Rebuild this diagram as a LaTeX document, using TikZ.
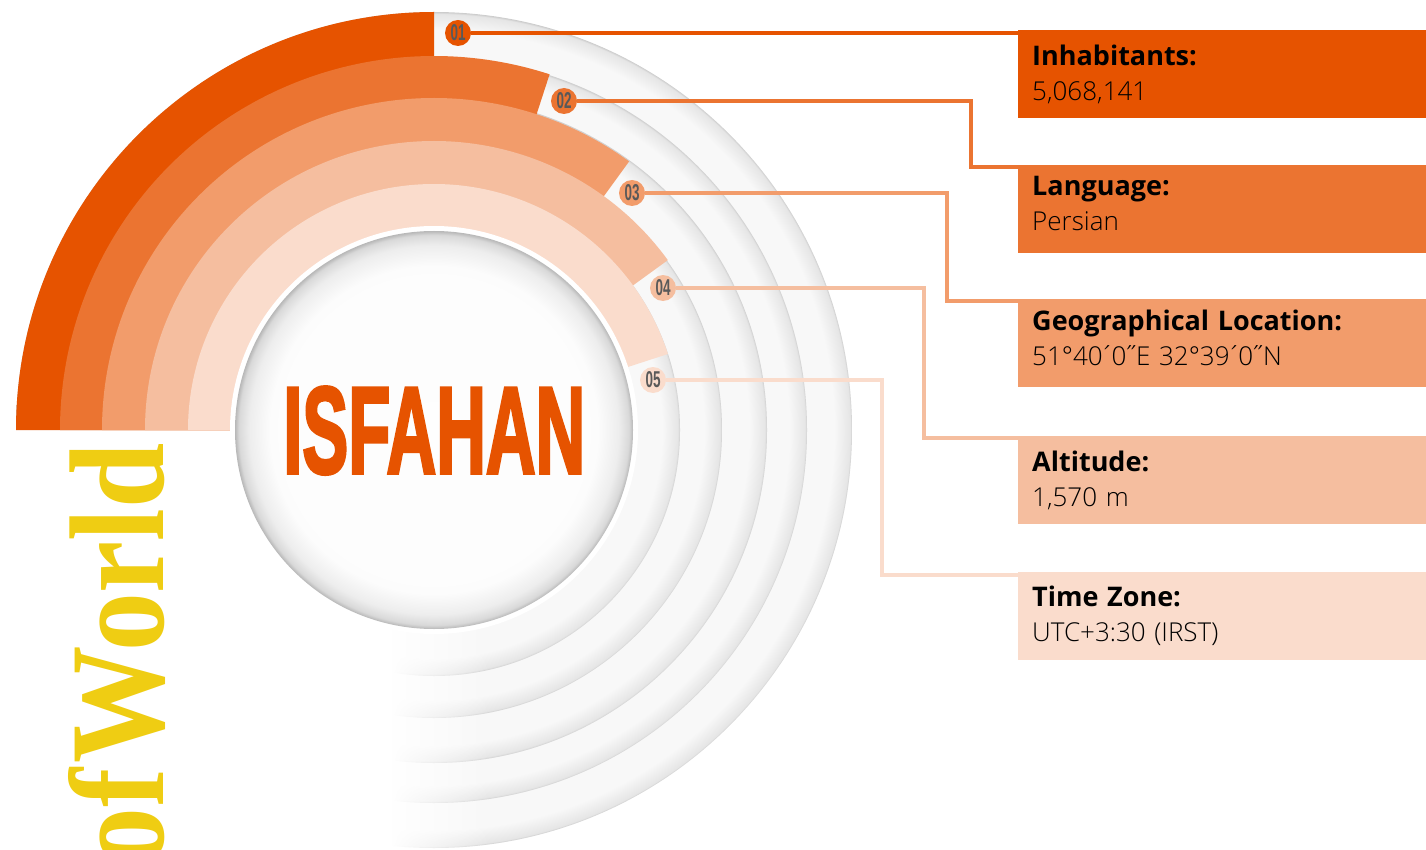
\documentclass[tikz,border=0pt]{standalone}
\usepackage{fontspec}
\usetikzlibrary{fadings}
\newfontfamily\boxfont[WordSpace=1.5]{Open Sans}
\newfontfamily\valfont[WordSpace=1.5]{Open Sans Light}
\newfontfamily\numfont{Liberation Sans}
\newfontfamily\cityfont[FakeBold=3]{Liberation Sans Bold}
\newfontfamily\titlefont[WordSpace=0.2]{Liberation Serif Bold}
\definecolor{cA}{HTML}{E65300}
\definecolor{cB}{HTML}{EB7431}
\definecolor{cC}{HTML}{F29C6B}
\definecolor{cD}{HTML}{F5BE9F}
\definecolor{cE}{HTML}{FADCCC}
\definecolor{numgray}{HTML}{595959}
\definecolor{titleyellow}{HTML}{EFCD13}
\newcommand{\ringshade}[3]{\pgfdeclareradialshading{#1}{\pgfpointorigin}{%
  rgb(0bp)=(0.973,0.973,0.973);
  rgb(#2bp)=(0.973,0.973,0.973);
  rgb(#3bp)=(0.90,0.90,0.90);
  rgb(25bp)=(0.80,0.80,0.80);
  rgb(50bp)=(0.80,0.80,0.80)}}
\ringshade{ringA}{23.92}{24.88}
\ringshade{ringB}{23.80}{24.87}
\ringshade{ringC}{23.65}{24.85}
\ringshade{ringD}{23.44}{24.83}
\ringshade{ringE}{23.17}{24.80}
\pgfdeclareradialshading{hub}{\pgfpointorigin}{%
  rgb(0bp)=(0.995,0.995,0.995);
  rgb(20.5bp)=(0.99,0.99,0.99);
  rgb(23.2bp)=(0.93,0.93,0.93);
  rgb(24.5bp)=(0.85,0.85,0.85);
  rgb(25bp)=(0.72,0.72,0.72);
  rgb(50bp)=(0.72,0.72,0.72)}
\tikzfading[name=faderight,left color=transparent!0,right color=transparent!100]
\tikzset{
  x=1pt,y=1pt,
  badge/.style={circle,minimum size=26pt,inner sep=0pt,text=numgray},
  infobox/.style={anchor=north west,minimum width=408pt,minimum height=88pt,inner sep=0pt},
  infolabel/.style={anchor=west,inner sep=0pt,text width=380pt,align=left,text=black,
    font=\fontsize{26}{35}\selectfont},
  link/.style={line width=4pt}
}
\newcommand{\badgetext}[1]{\resizebox{15pt}{16pt}{\numfont\bfseries #1}}
\newcommand{\infotext}[2]{{\fontsize{27}{35}\selectfont\boxfont\bfseries #1}\\{\valfont #2}}
\newcommand{\tick}{\kern-.12em´\kern-.12em}
\newcommand{\ticks}{\kern-.1em˝\kern-.1em}
\begin{document}
\begin{tikzpicture}
\useasboundingbox (0,0) rectangle (1426,-850);
\clip (0,0) rectangle (1426,-850);
\coordinate (c) at (434,-430);
% grey rings
\shade[shading=ringA] (c) circle[radius=418];
\shade[shading=ringB] (c) circle[radius=373];
\shade[shading=ringC] (c) circle[radius=333];
\shade[shading=ringD] (c) circle[radius=288];
\shade[shading=ringE] (c) circle[radius=246];
% fade toward lower left
\fill[white] (0,-430) rectangle (392,-850);
\fill[white,path fading=faderight] (391,-430) rectangle (490,-850);
% coloured sectors
\fill[cA] (c) -- +(180:418) arc[start angle=180,end angle=90,radius=418] -- cycle;
\fill[cB] (c) -- +(180:374) arc[start angle=180,end angle=72,radius=374] -- cycle;
\fill[cC] (c) -- +(180:332) arc[start angle=180,end angle=54,radius=332] -- cycle;
\fill[cD] (c) -- +(180:289) arc[start angle=180,end angle=36,radius=289] -- cycle;
\fill[cE] (c) -- +(180:246) arc[start angle=180,end angle=18,radius=246] -- cycle;
\fill[white] (c) circle[radius=204];
\shade[shading=hub] (c) circle[radius=199];
% centre label
\node[inner sep=0pt,text=cA,anchor=base west] (city) at (283,-473)
  {\resizebox{302pt}{86pt}{\cityfont ISFAHAN}};
% title
\node[inner sep=0pt,text=titleyellow,rotate=90,anchor=base east] (title) at (163,-443)
  {\scalebox{0.87}[1]{\fontsize{135}{135}\selectfont\titlefont of World}};
% info boxes
\node[infobox,fill=cA] (t1) at (1018,-30) {};
\node[infobox,fill=cB] (t2) at (1018,-165) {};
\node[infobox,fill=cC] (t3) at (1018,-299) {};
\node[infobox,fill=cD] (t4) at (1018,-436) {};
\node[infobox,fill=cE] (t5) at (1018,-572) {};
\node[infolabel] (l1) at ([xshift=14pt]t1.west) {\infotext{Inhabitants:}{5,068,141}};
\node[infolabel] (l2) at ([xshift=14pt,yshift=5.5pt]t2.west) {\infotext{Language:}{Persian}};
\node[infolabel] (l3) at ([xshift=14pt,yshift=5.5pt]t3.west) {\infotext{Geographical Location:}{51°40\tick 0\ticks E 32°39\tick 0\ticks N}};
\node[infolabel] (l4) at ([xshift=14pt]t4.west) {\infotext{Altitude:}{1,570 m}};
\node[infolabel] (l5) at ([xshift=14pt]t5.west) {\infotext{Time Zone:}{UTC+3:30 (IRST)}};
% badges
\node[badge,fill=cA] (b1) at (458,-33) {\badgetext{01}};
\node[badge,fill=cB] (b2) at (564,-101) {\badgetext{02}};
\node[badge,fill=cC] (b3) at (632,-193) {\badgetext{03}};
\node[badge,fill=cD] (b4) at (663,-288) {\badgetext{04}};
\node[badge,fill=cE] (b5) at (653,-380) {\badgetext{05}};
% bends
\coordinate (k2) at (971,-167);
\coordinate (k3) at (947,-301);
\coordinate (k4) at (924,-438);
\coordinate (k5) at (882,-575);
% connectors
\draw[link,cA] (b1.east) -- (b1.east -| t1.west);
\draw[link,cB] (b2.east) -| (k2) -- (k2 -| t2.west);
\draw[link,cC] (b3.east) -| (k3) -- (k3 -| t3.west);
\draw[link,cD] (b4.east) -| (k4) -- (k4 -| t4.west);
\draw[link,cE] (b5.east) -| (k5) -- (k5 -| t5.west);
\end{tikzpicture}
\end{document}
